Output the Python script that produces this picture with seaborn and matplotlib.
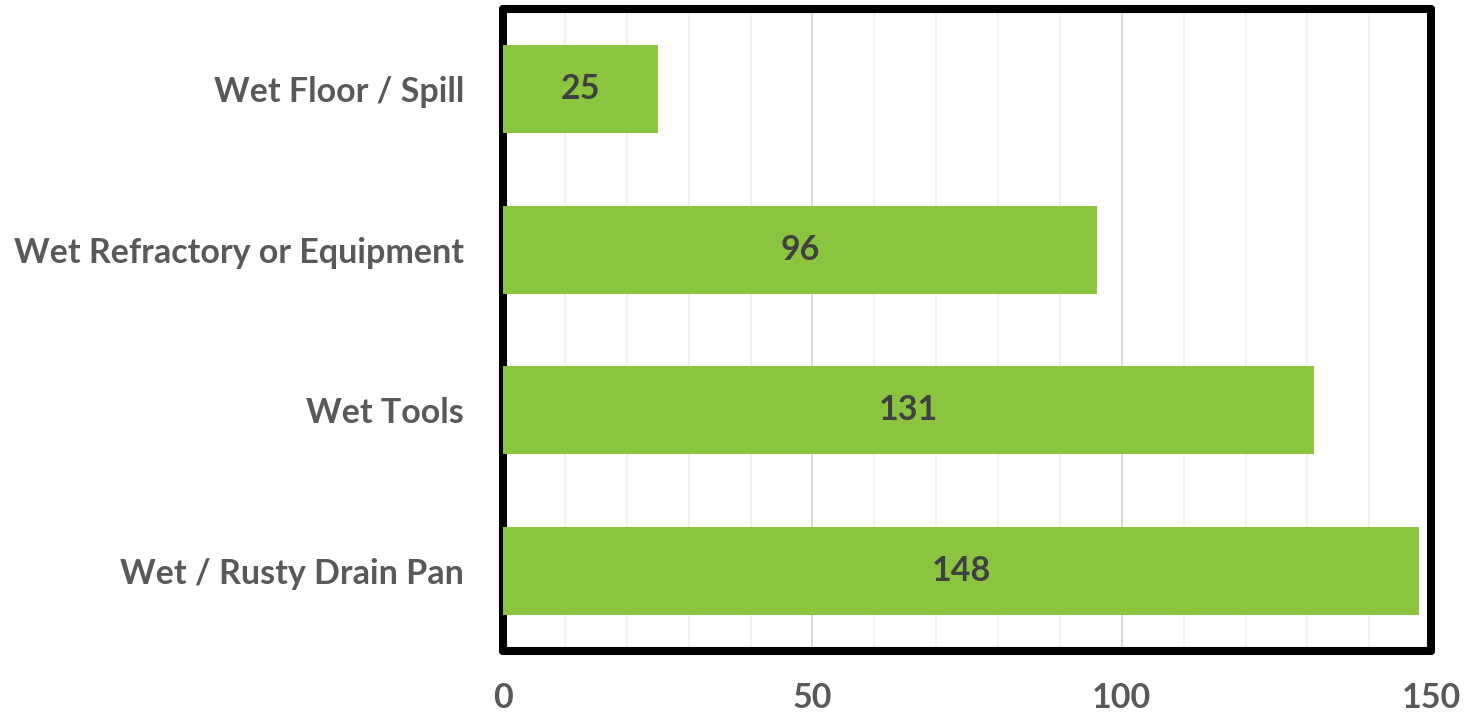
import pandas as pd
import matplotlib
matplotlib.use('Agg')
import matplotlib.pyplot as plt
import seaborn as sns
from matplotlib.ticker import MultipleLocator

causes = ['Wet Floor / Spill', 'Wet Refractory or Equipment', 'Wet Tools', 'Wet / Rusty Drain Pan']
counts = [25, 96, 131, 148]

df = pd.DataFrame({'Cause': causes, 'Count': counts})

sns.set_style('white')
plt.rcParams['font.family'] = ['Lato', 'DejaVu Sans']

fig = plt.figure(figsize=(14.74, 7.16), dpi=100)
ax = fig.add_axes([0.3413, 0.0908, 0.6296, 0.8966])

sns.barplot(data=df, x='Count', y='Cause', color='#8BC540', saturation=1,
            width=0.55, linewidth=0, ax=ax, zorder=3)

ax.set_xlim(0, 150)
ax.xaxis.set_major_locator(MultipleLocator(50))
ax.xaxis.set_minor_locator(MultipleLocator(10))
ax.grid(which='minor', axis='x', color='#f0f0f0', lw=1.2, zorder=0)
ax.grid(which='major', axis='x', color='#d9d9d9', lw=1.4, zorder=0)
ax.set_axisbelow(True)

for s in ax.spines.values():
    s.set_visible(True)
    s.set_color('black')
    s.set_linewidth(5.8)
    s.set_capstyle('round')

ax.tick_params(axis='both', which='both', length=0)
ax.tick_params(axis='x', pad=22, labelsize=24.5, labelcolor='#595959')
ax.tick_params(axis='y', pad=28, labelsize=24.5, labelcolor='#595959')
for lab in ax.get_xticklabels() + ax.get_yticklabels():
    lab.set_fontweight('bold')

ax.bar_label(ax.containers[0], label_type='center', fontsize=24.5,
             fontweight='bold', color='#404040')

ax.set_xlabel('')
ax.set_ylabel('')

fig.savefig('out.png', dpi=100)
